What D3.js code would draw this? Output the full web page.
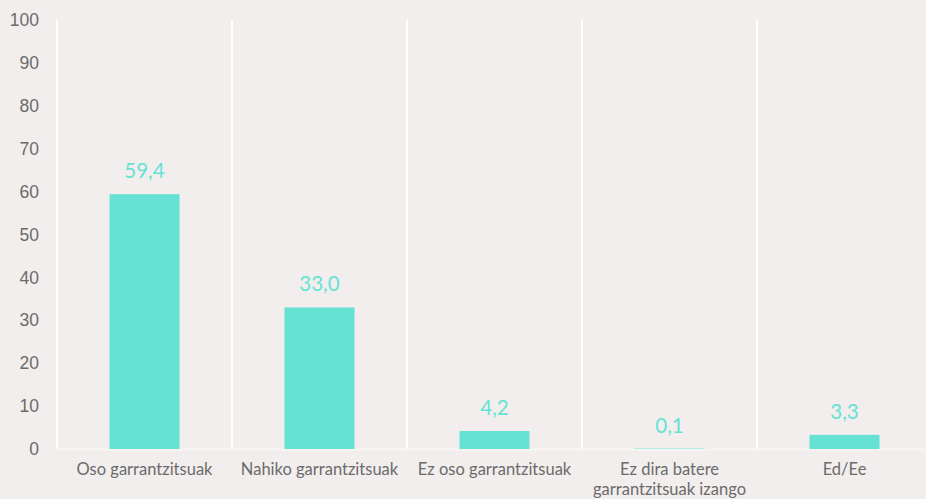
<!DOCTYPE html>
<html>
<head>
<meta charset="utf-8">
<script src="https://cdn.jsdelivr.net/npm/d3@7"></script>
<style>
  html, body { margin: 0; padding: 0; background: #f2eeed; }
  svg { display: block; font-family: "Century Gothic", "Lato", "DejaVu Sans", sans-serif; }
</style>
</head>
<body>
<div id="chart"></div>
<script>
const categories = [
  'Oso garrantzitsuak',
  'Nahiko garrantzitsuak',
  'Ez oso garrantzitsuak',
  'Ez dira batere garrantzitsuak izango',
  'Ed/Ee'
];
const categoryLines = [
  ['Oso garrantzitsuak'],
  ['Nahiko garrantzitsuak'],
  ['Ez oso garrantzitsuak'],
  ['Ez dira batere', 'garrantzitsuak izango'],
  ['Ed/Ee']
];
const values = [59.4, 33.0, 4.2, 0.1, 3.3];
const yTicks = [0, 10, 20, 30, 40, 50, 60, 70, 80, 90, 100];

const width = 926;
const height = 499;
const MARGIN = { top: 20, right: -6, bottom: 50, left: 57 };
const innerW = width - MARGIN.left - MARGIN.right;
const innerH = height - MARGIN.top - MARGIN.bottom;

const BAR_COLOR = '#66e2d5';
const TEXT_COLOR = '#6b6b6b';

const svg = d3.select('#chart')
  .append('svg')
  .attr('width', width)
  .attr('height', height);

svg.append('rect')
  .attr('width', width)
  .attr('height', height)
  .attr('fill', '#f2eeed');

const g = svg.append('g')
  .attr('transform', `translate(${MARGIN.left},${MARGIN.top})`);

const x = d3.scaleBand()
  .domain(categories)
  .range([0, innerW])
  .paddingInner(0)
  .paddingOuter(0);

const y = d3.scaleLinear()
  .domain([0, 100])
  .range([innerH, 0]);

// vertical separators between categories
const seps = categories.map(c => x(c)).concat([innerW]);
g.selectAll('.sep')
  .data(seps)
  .join('line')
  .attr('class', 'sep')
  .attr('x1', d => d).attr('x2', d => d)
  .attr('y1', y(100)).attr('y2', y(0))
  .attr('stroke', '#ffffff')
  .attr('stroke-width', 2);

// baseline
g.append('line')
  .attr('x1', 0).attr('x2', innerW)
  .attr('y1', y(0) + 0.5).attr('y2', y(0) + 0.5)
  .attr('stroke', '#f7f5f4')
  .attr('stroke-width', 2);

// y axis labels
const yAxis = g.append('g')
  .call(d3.axisLeft(y).tickValues(yTicks).tickSize(0).tickPadding(18));
yAxis.select('.domain').remove();
yAxis.selectAll('text')
  .style('font-size', '17.5px')
  .style('fill', TEXT_COLOR);

const barW = 70;

g.selectAll('.bar')
  .data(values)
  .join('rect')
  .attr('class', 'bar')
  .attr('x', (d, i) => x(categories[i]) + x.bandwidth() / 2 - barW / 2)
  .attr('width', barW)
  .attr('y', d => y(d))
  .attr('height', d => y(0) - y(d))
  .attr('fill', BAR_COLOR);

g.selectAll('.val')
  .data(values)
  .join('text')
  .attr('class', 'val')
  .attr('x', (d, i) => x(categories[i]) + x.bandwidth() / 2)
  .attr('y', d => y(d) - 16)
  .attr('text-anchor', 'middle')
  .style('font-size', '20.5px')
  .style('fill', BAR_COLOR)
  .text(d => d3.format('.1f')(d).replace('.', ','));

// category labels
const xl = g.selectAll('.cat')
  .data(categoryLines)
  .join('text')
  .attr('class', 'cat')
  .attr('text-anchor', 'middle')
  .attr('transform', (d, i) => `translate(${x(categories[i]) + x.bandwidth() / 2},${innerH + 26})`)
  .style('font-size', '16.5px')
  .style('fill', TEXT_COLOR);
xl.selectAll('tspan')
  .data(d => d)
  .join('tspan')
  .attr('x', 0)
  .attr('dy', (d, i) => i === 0 ? 0 : 19.5)
  .text(d => d);
</script>
</body>
</html>
